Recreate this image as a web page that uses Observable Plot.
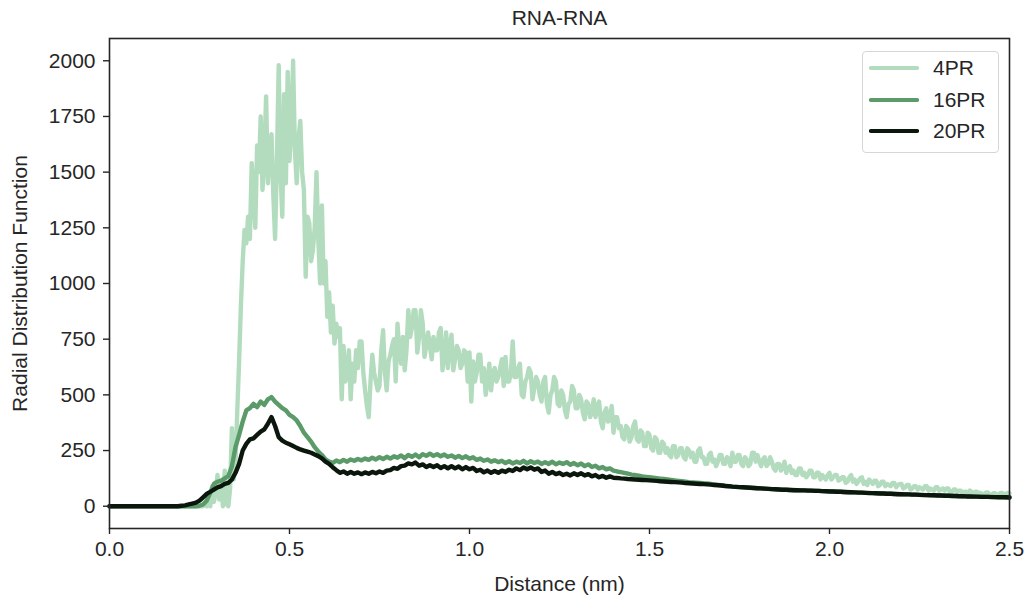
<!DOCTYPE html>
<html>
<head>
<meta charset="utf-8">
<script src="https://cdn.jsdelivr.net/npm/d3@7"></script>
<script src="https://cdn.jsdelivr.net/npm/@observablehq/plot@0.6"></script>
<style>
  html, body { margin: 0; padding: 0; background: #fff; }
  #wrap { position: relative; width: 1028px; height: 597px; font-family: "Liberation Sans", Arial, sans-serif; }
  #legend { position: absolute; left: 862px; top: 51px; width: 137px; height: 102px; box-sizing: border-box;
            border: 1px solid #d6d6d6; border-radius: 4px; background: rgba(255,255,255,0.85); }
  .row { position: absolute; height: 24px; display: flex; align-items: center; }
  .row span { font-size: 21px; color: #262626; margin-left: 14px; }
</style>
</head>
<body>
<div id="wrap"><div id="legend"></div></div>
<script>
// ---- data ----
const title = "RNA-RNA";
const xLabel = "Distance (nm)";
const yLabel = "Radial Distribution Function";
const seriesNames = ["4PR", "16PR", "20PR"];
const seriesColors = ["#b3dcbf", "#5a9b69", "#0b170d"];
const xTicks = [0, 0.5, 1.0, 1.5, 2.0, 2.5];
const yTicks = [0, 250, 500, 750, 1000, 1250, 1500, 1750, 2000];
const step4PR = 0.005;   // distance sampling of the 4PR curve (nm)
const stepOther = 0.01;  // distance sampling of the 16PR / 20PR curves (nm)

const rdf4PR = [
0,0,0,0,0,0,0,0,0,0,
0,0,0,0,0,0,0,0,0,0,
0,0,0,0,0,0,0,0,0,0,
0,0,0,0,0,0,0,0,0,0,
0,0,0,0,0,0,0,0,0,0,
0,0,0,15,0,40,0,90,20,60,
140,30,100,0,160,10,0,80,350,120,
200,430,650,900,1100,1240,1180,1300,1200,1540,
1400,1250,1620,1500,1750,1420,1560,1840,1450,1600,
1670,1400,1200,1550,1980,1500,1300,1850,1450,1950,
1550,1700,2000,1600,1450,1650,1730,1500,1420,1030,
1300,1270,1100,1150,1250,1500,1200,1000,1350,1000,
1100,850,960,780,900,730,820,760,800,480,
720,560,600,700,480,640,560,700,620,740,
740,600,520,450,400,560,680,600,560,520,
540,700,790,600,520,650,680,720,750,560,
820,700,640,760,610,700,880,760,800,880,
880,690,760,880,820,670,720,780,720,660,
760,700,700,780,800,610,680,780,620,720,
770,610,660,720,700,620,640,700,690,560,
690,470,650,560,600,680,680,560,620,500,
560,640,520,600,620,560,580,620,660,540,
670,560,560,600,740,580,580,620,640,500,
490,560,580,620,600,480,530,580,560,500,
470,560,580,460,420,500,520,580,560,460,
450,520,500,430,400,460,470,540,520,440,
440,500,480,420,390,470,460,400,420,480,
400,450,470,380,350,420,440,380,390,450,
330,400,400,350,360,310,300,360,350,290,
310,360,380,300,290,340,330,270,270,330,
320,260,250,310,300,240,240,290,280,240,
260,230,220,270,270,220,230,260,260,220,
210,260,250,220,240,200,200,250,260,220,
220,190,190,230,240,200,210,180,200,230,
230,190,190,220,210,180,240,200,200,230,
230,190,180,220,210,180,190,240,240,200,
230,200,180,210,220,180,190,220,200,170,
160,190,190,160,170,200,150,170,180,150,
160,140,140,170,170,140,150,130,140,160,
160,130,130,150,150,120,140,130,120,140,
150,120,130,140,140,115,120,130,130,105,
110,130,140,110,120,100,110,125,130,100,
110,95,120,110,100,115,115,90,95,110,
110,90,100,95,90,105,105,85,95,100,
100,80,85,95,95,75,80,90,90,75,
85,80,75,90,90,70,80,75,70,85,
85,70,75,80,70,80,80,60,65,75,
75,65,70,70,60,65,65,55,70,65,
55,65,65,60,60,52,55,62,62,50,
50,58,58,48,52,60,60,50,55,60,
58];

const rdf16PR = [
0,0,0,0,0,0,0,0,0,0,
0,0,0,0,0,0,0,0,0,0,
0,0,0,0,0,2,8,25,60,100,
110,115,125,135,180,265,320,380,430,440,
460,445,470,455,480,490,470,455,440,430,
410,400,385,360,330,310,290,265,245,230,
210,200,195,205,198,208,200,210,204,212,
206,214,208,218,210,220,212,222,214,224,
218,228,216,230,222,232,220,234,226,236,
226,234,224,232,222,228,218,226,216,224,
214,220,208,214,204,210,200,206,198,204,
194,202,192,200,194,204,192,202,194,200,
190,198,190,200,188,196,190,198,186,194,
184,192,180,188,176,182,170,176,166,170,
160,156,153,150,146,142,140,137,134,132,
130,128,126,124,122,120,118,116,114,112,
110,108,107,106,105,103,102,100,98,96,
94,92,90,88,87,86,85,84,83,82,
81,80,79,78,77,76,75,74,74,73,
73,72,72,71,71,70,70,69,68,68,
67,66,66,65,64,64,63,62,62,61,
60,60,59,58,58,57,56,56,55,55,
54,54,53,52,52,51,51,50,50,49,
49,48,48,47,47,46,46,45,45,44,
44,43,43,42,42,42,41,41,41,40,
40];

const rdf20PR = [
0,0,0,0,0,0,0,0,0,0,
0,0,0,0,0,0,0,0,0,0,
2,4,8,12,16,25,40,55,65,75,
85,90,100,105,120,150,190,250,280,300,
305,320,335,345,370,400,360,310,295,285,
278,270,262,255,250,245,240,232,225,215,
200,190,175,162,150,156,146,154,146,152,
144,152,146,154,148,156,150,160,162,172,
168,180,182,192,188,196,182,188,176,184,
176,184,172,180,170,180,170,178,166,176,
166,172,158,164,152,160,150,158,150,160,
154,164,158,170,162,174,166,174,164,170,
154,160,146,154,144,150,140,146,138,148,
140,148,138,144,134,140,130,136,128,134,
128,127,125,124,122,121,120,119,118,117,
116,115,114,112,111,110,109,108,107,106,
104,103,102,101,100,99,98,97,95,94,
93,91,90,88,87,86,85,84,83,82,
81,80,79,78,77,76,75,74,74,73,
72,72,71,71,70,70,69,69,68,67,
66,66,65,65,64,63,63,62,61,61,
60,59,59,58,57,57,56,56,55,54,
54,53,53,52,52,51,50,50,49,49,
48,48,47,47,46,46,45,45,44,44,
43,43,42,42,42,41,41,40,40,40,
39];

// ---- build table ----
const seriesValues = [rdf4PR, rdf16PR, rdf20PR];
const seriesSteps = [step4PR, stepOther, stepOther];
const rows = [];
seriesNames.forEach((name, k) => {
  seriesValues[k].forEach((v, i) => rows.push({series: name, distance: +(i * seriesSteps[k]).toFixed(3), value: v}));
});

const chart = Plot.plot({
  width: 1028,
  height: 597,
  marginLeft: 109,
  marginRight: 19,
  marginTop: 38,
  marginBottom: 69,
  style: {fontFamily: "'Liberation Sans', Arial, sans-serif", fontSize: "21px", color: "#262626", background: "white"},
  x: {domain: [0, 2.5]},
  y: {domain: [-100, 2100]},
  color: {domain: seriesNames, range: seriesColors},
  marks: [
    Plot.line(rows, {x: "distance", y: "value", z: "series", stroke: "series", strokeWidth: 4.4, strokeLinejoin: "round"}),
    Plot.frame({stroke: "#262626", strokeWidth: 1.6}),
    Plot.axisX({ticks: xTicks, tickFormat: d3.format(".1f"), tickSize: 6, tickPadding: 7, strokeWidth: 1.4,
      label: xLabel, labelAnchor: "center", labelArrow: "none", labelOffset: 62}),
    Plot.axisY({ticks: yTicks, tickFormat: d => String(d), tickSize: 6, tickPadding: 8, strokeWidth: 1.4,
      label: yLabel, labelAnchor: "center", labelArrow: "none", labelOffset: 97}),
    Plot.text([title], {frameAnchor: "top", lineAnchor: "middle", dy: -20, fontSize: 21, fill: "#262626"})
  ]
});
const wrap = document.getElementById("wrap");
wrap.insertBefore(chart, wrap.firstChild);

// ---- legend ----
const legend = document.getElementById("legend");
seriesNames.forEach((name, k) => {
  const row = document.createElement("div");
  row.className = "row";
  row.style.top = (4 + k * 31.5) + "px";
  row.style.left = "6px";
  row.innerHTML = `<svg width="50" height="8"><line x1="2" y1="4" x2="48" y2="4" stroke="${seriesColors[k]}" stroke-width="4.2" stroke-linecap="round"/></svg><span>${name}</span>`;
  legend.appendChild(row);
});
</script>
</body>
</html>
